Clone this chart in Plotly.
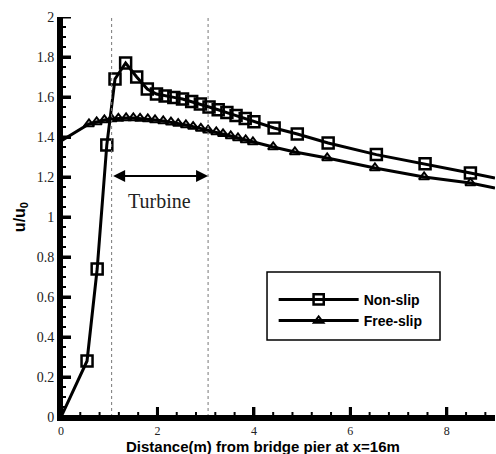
import plotly.graph_objects as go

# Non-slip (squares)
ns_x = [0, 0.54, 0.75, 0.95, 1.12, 1.34, 1.57, 1.79, 1.98, 2.16, 2.34, 2.52, 2.71, 2.89, 3.07, 3.26, 3.44, 3.63, 3.82, 4.00, 4.42, 4.90, 5.54, 6.54, 7.55, 8.49, 9.0]
ns_y = [0, 0.28, 0.74, 1.36, 1.69, 1.77, 1.70, 1.64, 1.615, 1.605, 1.598, 1.59, 1.577, 1.565, 1.55, 1.536, 1.522, 1.507, 1.492, 1.476, 1.445, 1.415, 1.37, 1.312, 1.266, 1.22, 1.195]

# Free-slip (triangles)
fs_x = [0, 0.58, 0.74, 0.90, 1.05, 1.19, 1.35, 1.50, 1.64, 1.80, 1.95, 2.12, 2.28, 2.43, 2.59, 2.74, 2.90, 3.05, 3.22, 3.36, 3.52, 3.67, 3.83, 3.98, 4.40, 4.85, 5.52, 6.51, 7.53, 8.49, 9.0]
fs_y = [1.38, 1.465, 1.475, 1.485, 1.49, 1.493, 1.495, 1.495, 1.493, 1.49, 1.485, 1.48, 1.474, 1.467, 1.46, 1.452, 1.443, 1.434, 1.425, 1.416, 1.405, 1.395, 1.385, 1.375, 1.35, 1.325, 1.295, 1.245, 1.20, 1.17, 1.145]

turbine_start = 1.05
turbine_end = 3.05
arrow_y = 1.205
turbine_label = "Turbine"
turbine_label_pos = (2.05, 1.08)

x_range = [0, 9]
y_range = [0, 2]
x_ticks = [0, 2, 4, 6, 8]
y_ticks = [0, 0.2, 0.4, 0.6, 0.8, 1, 1.2, 1.4, 1.6, 1.8, 2]
x_minor = [round(0.4 * i, 2) for i in range(1, 23) if i % 5 != 0]
y_minor = [round(0.05 * i, 2) for i in range(1, 40) if i % 4 != 0]

x_title = "Distance(m) from bridge pier at x=16m"
y_title = "u/u<sub>0</sub>"


def sizes(n, base):
    s = [base] * n
    s[0] = 0
    s[-1] = 0
    return s


fig = go.Figure()
fig.add_trace(go.Scatter(
    x=ns_x, y=ns_y, mode="lines+markers", name="Non-slip",
    line=dict(color="black", width=3),
    marker=dict(symbol="square-open", size=sizes(len(ns_x), 11), color="black", opacity=1,
                line=dict(width=2.5, color="black")),
))
fig.add_trace(go.Scatter(
    x=fs_x, y=fs_y, mode="lines+markers", name="Free-slip",
    line=dict(color="black", width=3),
    marker=dict(symbol="triangle-up-open", size=sizes(len(fs_x), 9), color="black", opacity=1,
                line=dict(width=2, color="black")),
))

for xv in (turbine_start, turbine_end):
    fig.add_shape(type="line", x0=xv, x1=xv, y0=y_range[0], y1=y_range[1], xref="x", yref="y",
                  line=dict(color="#777777", width=1, dash="dot"))

# axis frame lines and ticks (drawn as axis-referenced shapes)
fig.add_shape(type="line", xref="x", yref="y", x0=x_range[0], x1=x_range[1], y0=0, y1=0,
              line=dict(color="black", width=4))
fig.add_shape(type="line", xref="x", yref="y", x0=0, x1=0, y0=y_range[0], y1=y_range[1],
              line=dict(color="black", width=4))
for v, ln, w in [(t, 10, 3) for t in x_ticks] + [(t, 5, 2) for t in x_minor]:
    fig.add_shape(type="line", xref="x", yref="y", ysizemode="pixel", yanchor=0,
                  x0=v, x1=v, y0=0, y1=ln, line=dict(color="black", width=w))
for v, ln, w in [(t, 10, 3) for t in y_ticks] + [(t, 5, 2) for t in y_minor]:
    fig.add_shape(type="line", xref="x", yref="y", xsizemode="pixel", xanchor=0,
                  y0=v, y1=v, x0=0, x1=ln, line=dict(color="black", width=w))

# legend frame
fig.add_shape(type="rect", xref="paper", yref="paper", x0=0.4747, x1=0.8733, y0=0.1925, y1=0.3625,
              line=dict(color="black", width=1.5))

fig.add_annotation(x=turbine_end, y=arrow_y, ax=turbine_start, ay=arrow_y,
                   xref="x", yref="y", axref="x", ayref="y", text="",
                   showarrow=True, arrowhead=2, arrowside="end+start", arrowsize=1.2,
                   arrowwidth=2, arrowcolor="black")
fig.add_annotation(x=turbine_label_pos[0], y=turbine_label_pos[1], xref="x", yref="y",
                   text=turbine_label, showarrow=False,
                   font=dict(family="Liberation Serif", size=20, color="#222222"))
fig.add_annotation(x=0.465, y=-0.073, xref="paper", yref="paper", text=x_title,
                   showarrow=False, xanchor="center", yanchor="middle",
                   font=dict(family="Liberation Sans", size=15, color="black", weight="bold"))

fig.update_layout(
    width=496, height=454,
    margin=dict(l=61, r=1, t=17, b=37),
    paper_bgcolor="white", plot_bgcolor="white",
    showlegend=True,
    legend=dict(x=0.49, y=0.333, xanchor="left", yanchor="top",
                bgcolor="rgba(0,0,0,0)", borderwidth=0,
                font=dict(family="Liberation Sans", size=14, color="black", weight="bold"),
                itemwidth=80, tracegroupgap=0),
    xaxis=dict(range=x_range, tickvals=x_ticks, ticktext=[str(v) for v in x_ticks],
               ticks="inside", ticklen=10, tickwidth=3, tickcolor="black",
               showline=True, linewidth=4, linecolor="black", showgrid=False, zeroline=False,
               tickfont=dict(family="Liberation Serif", size=12, color="#222222")),
    yaxis=dict(range=y_range, tickvals=y_ticks, ticktext=[("%g" % v) for v in y_ticks],
               ticks="inside", ticklen=10, tickwidth=3, tickcolor="black",
               showline=True, linewidth=4, linecolor="black", showgrid=False, zeroline=False,
               tickfont=dict(family="Liberation Serif", size=14, color="#222222"),
               title=dict(text=y_title, standoff=8,
                          font=dict(family="Liberation Sans", size=16, color="black", weight="bold"))),
)

fig.write_html("out.html")
